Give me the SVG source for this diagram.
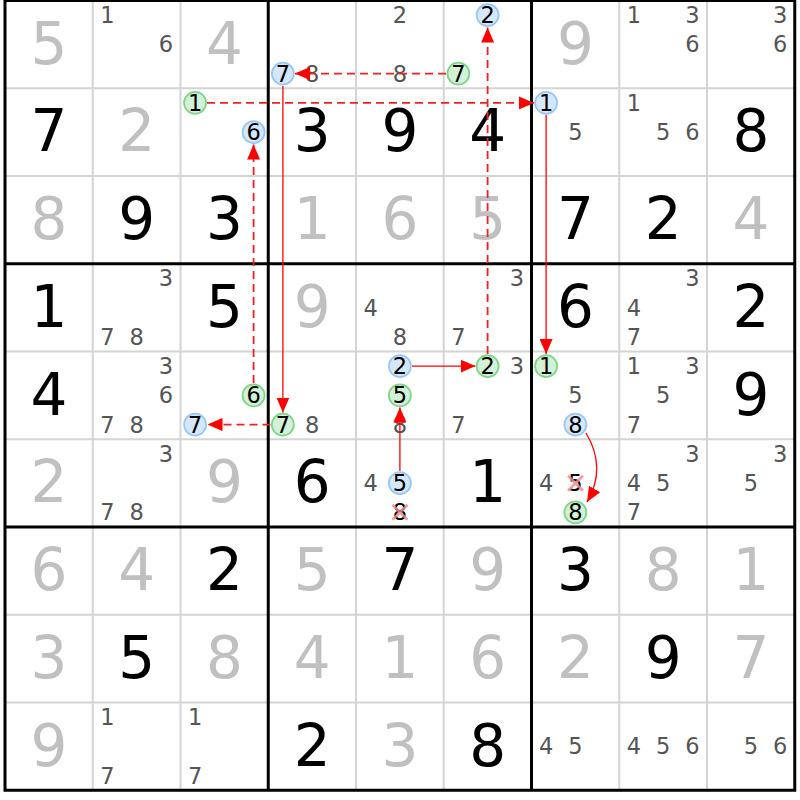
<svg xmlns="http://www.w3.org/2000/svg" width="800" height="800" viewBox="0 0 800 800">
<style>
text{font-family:"DejaVu Sans","Liberation Sans",sans-serif;text-anchor:middle}
.g{font-size:58px;fill:#000}
.s{font-size:58px;fill:#c0c0c0}
.c{font-size:22.5px;fill:#555}
.k{font-size:22.5px;fill:#000}
.thin{stroke:#d4d4d4;stroke-width:2}
.thick{stroke:#000;stroke-width:3}
.bl{fill:#d5e8fb;stroke:#99c7f4;stroke-width:1.8}
.gr{fill:#d3f1d6;stroke:#7dd68b;stroke-width:1.8}
.x{stroke:#f08a8a;stroke-width:2.5;opacity:0.85}
.sol{stroke:#f00;stroke-width:1.3;fill:none}
.dash{stroke:#f02020;stroke-width:1.8;fill:none;stroke-dasharray:8,5}
</style>
<defs>
<marker id="ah" markerUnits="userSpaceOnUse" markerWidth="16" markerHeight="13" refX="15" refY="6.5" orient="auto">
<path d="M0,0 L15,6.5 L0,13 Z" fill="#f00"/>
</marker>
</defs>
<rect width="800" height="800" fill="#fff"/>
<g id="grid">
<g class="thin">
<line x1="92.75" y1="0.5" x2="92.75" y2="790.25"/><line x1="180.5" y1="0.5" x2="180.5" y2="790.25"/>
<line x1="356" y1="0.5" x2="356" y2="790.25"/><line x1="443.75" y1="0.5" x2="443.75" y2="790.25"/>
<line x1="619.25" y1="0.5" x2="619.25" y2="790.25"/><line x1="707" y1="0.5" x2="707" y2="790.25"/>
<line x1="5" y1="88.25" x2="794.75" y2="88.25"/><line x1="5" y1="176" x2="794.75" y2="176"/>
<line x1="5" y1="351.5" x2="794.75" y2="351.5"/><line x1="5" y1="439.25" x2="794.75" y2="439.25"/>
<line x1="5" y1="614.75" x2="794.75" y2="614.75"/><line x1="5" y1="702.5" x2="794.75" y2="702.5"/>
</g>
<g class="thick">
<line x1="268.25" y1="0.5" x2="268.25" y2="790.25"/><line x1="531.5" y1="0.5" x2="531.5" y2="790.25"/>
<line x1="5" y1="263.75" x2="794.75" y2="263.75"/><line x1="5" y1="527" x2="794.75" y2="527"/>
<rect x="5" y="0.5" width="789.75" height="789.75" fill="none"/>
</g>
</g>
<!-- row 0 -->
<g id="r0c0" transform="translate(5,0.5)"><text class="s" x="43.9" y="63">5</text></g>
<g id="r0c1" transform="translate(92.75,0.5)"><text class="c" x="14.6" y="22.6">1</text><text class="c" x="73.1" y="51.9">6</text></g>
<g id="r0c2" transform="translate(180.5,0.5)"><text class="s" x="43.9" y="63">4</text></g>
<g id="r0c3" transform="translate(268.25,0.5)"><text class="c" x="43.9" y="81.1">8</text><circle class="bl" cx="14.6" cy="73.1" r="11"/><text class="k" x="14.6" y="81.1">7</text></g>
<g id="r0c4" transform="translate(356,0.5)"><text class="c" x="43.9" y="22.6">2</text><text class="c" x="43.9" y="81.1">8</text></g>
<g id="r0c5" transform="translate(443.75,0.5)"><circle class="bl" cx="43.9" cy="14.6" r="11"/><text class="k" x="43.9" y="22.6">2</text><circle class="gr" cx="14.6" cy="73.1" r="11"/><text class="k" x="14.6" y="81.1">7</text></g>
<g id="r0c6" transform="translate(531.5,0.5)"><text class="s" x="43.9" y="63">9</text></g>
<g id="r0c7" transform="translate(619.25,0.5)"><text class="c" x="14.6" y="22.6">1</text><text class="c" x="73.1" y="22.6">3</text><text class="c" x="73.1" y="51.9">6</text></g>
<g id="r0c8" transform="translate(707,0.5)"><text class="c" x="73.1" y="22.6">3</text><text class="c" x="73.1" y="51.9">6</text></g>
<!-- row 1 -->
<g id="r1c0" transform="translate(5,88.25)"><text class="g" x="43.9" y="63">7</text></g>
<g id="r1c1" transform="translate(92.75,88.25)"><text class="s" x="43.9" y="63">2</text></g>
<g id="r1c2" transform="translate(180.5,88.25)"><circle class="gr" cx="14.6" cy="14.6" r="11"/><text class="k" x="14.6" y="22.6">1</text><circle class="bl" cx="73.1" cy="43.9" r="11"/><text class="k" x="73.1" y="51.9">6</text></g>
<g id="r1c3" transform="translate(268.25,88.25)"><text class="g" x="43.9" y="63">3</text></g>
<g id="r1c4" transform="translate(356,88.25)"><text class="g" x="43.9" y="63">9</text></g>
<g id="r1c5" transform="translate(443.75,88.25)"><text class="g" x="43.9" y="63">4</text></g>
<g id="r1c6" transform="translate(531.5,88.25)"><circle class="bl" cx="14.6" cy="14.6" r="11"/><text class="k" x="14.6" y="22.6">1</text><text class="c" x="43.9" y="51.9">5</text></g>
<g id="r1c7" transform="translate(619.25,88.25)"><text class="c" x="14.6" y="22.6">1</text><text class="c" x="43.9" y="51.9">5</text><text class="c" x="73.1" y="51.9">6</text></g>
<g id="r1c8" transform="translate(707,88.25)"><text class="g" x="43.9" y="63">8</text></g>
<!-- row 2 -->
<g id="r2c0" transform="translate(5,176)"><text class="s" x="43.9" y="63">8</text></g>
<g id="r2c1" transform="translate(92.75,176)"><text class="g" x="43.9" y="63">9</text></g>
<g id="r2c2" transform="translate(180.5,176)"><text class="g" x="43.9" y="63">3</text></g>
<g id="r2c3" transform="translate(268.25,176)"><text class="s" x="43.9" y="63">1</text></g>
<g id="r2c4" transform="translate(356,176)"><text class="s" x="43.9" y="63">6</text></g>
<g id="r2c5" transform="translate(443.75,176)"><text class="s" x="43.9" y="63">5</text></g>
<g id="r2c6" transform="translate(531.5,176)"><text class="g" x="43.9" y="63">7</text></g>
<g id="r2c7" transform="translate(619.25,176)"><text class="g" x="43.9" y="63">2</text></g>
<g id="r2c8" transform="translate(707,176)"><text class="s" x="43.9" y="63">4</text></g>
<!-- row 3 -->
<g id="r3c0" transform="translate(5,263.75)"><text class="g" x="43.9" y="63">1</text></g>
<g id="r3c1" transform="translate(92.75,263.75)"><text class="c" x="73.1" y="22.6">3</text><text class="c" x="14.6" y="81.1">7</text><text class="c" x="43.9" y="81.1">8</text></g>
<g id="r3c2" transform="translate(180.5,263.75)"><text class="g" x="43.9" y="63">5</text></g>
<g id="r3c3" transform="translate(268.25,263.75)"><text class="s" x="43.9" y="63">9</text></g>
<g id="r3c4" transform="translate(356,263.75)"><text class="c" x="14.6" y="51.9">4</text><text class="c" x="43.9" y="81.1">8</text></g>
<g id="r3c5" transform="translate(443.75,263.75)"><text class="c" x="73.1" y="22.6">3</text><text class="c" x="14.6" y="81.1">7</text></g>
<g id="r3c6" transform="translate(531.5,263.75)"><text class="g" x="43.9" y="63">6</text></g>
<g id="r3c7" transform="translate(619.25,263.75)"><text class="c" x="73.1" y="22.6">3</text><text class="c" x="14.6" y="51.9">4</text><text class="c" x="14.6" y="81.1">7</text></g>
<g id="r3c8" transform="translate(707,263.75)"><text class="g" x="43.9" y="63">2</text></g>
<!-- row 4 -->
<g id="r4c0" transform="translate(5,351.5)"><text class="g" x="43.9" y="63">4</text></g>
<g id="r4c1" transform="translate(92.75,351.5)"><text class="c" x="73.1" y="22.6">3</text><text class="c" x="73.1" y="51.9">6</text><text class="c" x="14.6" y="81.1">7</text><text class="c" x="43.9" y="81.1">8</text></g>
<g id="r4c2" transform="translate(180.5,351.5)"><circle class="gr" cx="73.1" cy="43.9" r="11"/><text class="k" x="73.1" y="51.9">6</text><circle class="bl" cx="14.6" cy="73.1" r="11"/><text class="k" x="14.6" y="81.1">7</text></g>
<g id="r4c3" transform="translate(268.25,351.5)"><circle class="gr" cx="14.6" cy="73.1" r="11"/><text class="k" x="14.6" y="81.1">7</text><text class="c" x="43.9" y="81.1">8</text></g>
<g id="r4c4" transform="translate(356,351.5)"><text class="c" x="43.9" y="81.1">8</text><circle class="bl" cx="43.9" cy="14.6" r="11"/><text class="k" x="43.9" y="22.6">2</text><circle class="gr" cx="43.9" cy="43.9" r="11"/><text class="k" x="43.9" y="51.9">5</text></g>
<g id="r4c5" transform="translate(443.75,351.5)"><circle class="gr" cx="43.9" cy="14.6" r="11"/><text class="k" x="43.9" y="22.6">2</text><text class="c" x="73.1" y="22.6">3</text><text class="c" x="14.6" y="81.1">7</text></g>
<g id="r4c6" transform="translate(531.5,351.5)"><circle class="gr" cx="14.6" cy="14.6" r="11"/><text class="k" x="14.6" y="22.6">1</text><text class="c" x="43.9" y="51.9">5</text><circle class="bl" cx="43.9" cy="73.1" r="11"/><text class="k" x="43.9" y="81.1">8</text></g>
<g id="r4c7" transform="translate(619.25,351.5)"><text class="c" x="14.6" y="22.6">1</text><text class="c" x="73.1" y="22.6">3</text><text class="c" x="43.9" y="51.9">5</text><text class="c" x="14.6" y="81.1">7</text></g>
<g id="r4c8" transform="translate(707,351.5)"><text class="g" x="43.9" y="63">9</text></g>
<!-- row 5 -->
<g id="r5c0" transform="translate(5,439.25)"><text class="s" x="43.9" y="63">2</text></g>
<g id="r5c1" transform="translate(92.75,439.25)"><text class="c" x="73.1" y="22.6">3</text><text class="c" x="14.6" y="81.1">7</text><text class="c" x="43.9" y="81.1">8</text></g>
<g id="r5c2" transform="translate(180.5,439.25)"><text class="s" x="43.9" y="63">9</text></g>
<g id="r5c3" transform="translate(268.25,439.25)"><text class="g" x="43.9" y="63">6</text></g>
<g id="r5c4" transform="translate(356,439.25)"><text class="c" x="14.6" y="51.9">4</text><circle class="bl" cx="43.9" cy="43.9" r="11"/><text class="k" x="43.9" y="51.9">5</text><text class="k" x="43.9" y="81.1">8</text><path class="x" d="M36.5,65.5 L51.5,80.5 M51.5,65.5 L36.5,80.5"/></g>
<g id="r5c5" transform="translate(443.75,439.25)"><text class="g" x="43.9" y="63">1</text></g>
<g id="r5c6" transform="translate(531.5,439.25)"><text class="c" x="14.6" y="51.9">4</text><text class="k" x="43.9" y="51.9">5</text><path class="x" d="M36.5,36.5 L51.5,51.5 M51.5,36.5 L36.5,51.5"/><circle class="gr" cx="43.9" cy="73.1" r="11"/><text class="k" x="43.9" y="81.1">8</text></g>
<g id="r5c7" transform="translate(619.25,439.25)"><text class="c" x="73.1" y="22.6">3</text><text class="c" x="14.6" y="51.9">4</text><text class="c" x="43.9" y="51.9">5</text><text class="c" x="14.6" y="81.1">7</text></g>
<g id="r5c8" transform="translate(707,439.25)"><text class="c" x="73.1" y="22.6">3</text><text class="c" x="43.9" y="51.9">5</text></g>
<!-- row 6 -->
<g id="r6c0" transform="translate(5,527)"><text class="s" x="43.9" y="63">6</text></g>
<g id="r6c1" transform="translate(92.75,527)"><text class="s" x="43.9" y="63">4</text></g>
<g id="r6c2" transform="translate(180.5,527)"><text class="g" x="43.9" y="63">2</text></g>
<g id="r6c3" transform="translate(268.25,527)"><text class="s" x="43.9" y="63">5</text></g>
<g id="r6c4" transform="translate(356,527)"><text class="g" x="43.9" y="63">7</text></g>
<g id="r6c5" transform="translate(443.75,527)"><text class="s" x="43.9" y="63">9</text></g>
<g id="r6c6" transform="translate(531.5,527)"><text class="g" x="43.9" y="63">3</text></g>
<g id="r6c7" transform="translate(619.25,527)"><text class="s" x="43.9" y="63">8</text></g>
<g id="r6c8" transform="translate(707,527)"><text class="s" x="43.9" y="63">1</text></g>
<!-- row 7 -->
<g id="r7c0" transform="translate(5,614.75)"><text class="s" x="43.9" y="63">3</text></g>
<g id="r7c1" transform="translate(92.75,614.75)"><text class="g" x="43.9" y="63">5</text></g>
<g id="r7c2" transform="translate(180.5,614.75)"><text class="s" x="43.9" y="63">8</text></g>
<g id="r7c3" transform="translate(268.25,614.75)"><text class="s" x="43.9" y="63">4</text></g>
<g id="r7c4" transform="translate(356,614.75)"><text class="s" x="43.9" y="63">1</text></g>
<g id="r7c5" transform="translate(443.75,614.75)"><text class="s" x="43.9" y="63">6</text></g>
<g id="r7c6" transform="translate(531.5,614.75)"><text class="s" x="43.9" y="63">2</text></g>
<g id="r7c7" transform="translate(619.25,614.75)"><text class="g" x="43.9" y="63">9</text></g>
<g id="r7c8" transform="translate(707,614.75)"><text class="s" x="43.9" y="63">7</text></g>
<!-- row 8 -->
<g id="r8c0" transform="translate(5,702.5)"><text class="s" x="43.9" y="63">9</text></g>
<g id="r8c1" transform="translate(92.75,702.5)"><text class="c" x="14.6" y="22.6">1</text><text class="c" x="14.6" y="81.1">7</text></g>
<g id="r8c2" transform="translate(180.5,702.5)"><text class="c" x="14.6" y="22.6">1</text><text class="c" x="14.6" y="81.1">7</text></g>
<g id="r8c3" transform="translate(268.25,702.5)"><text class="g" x="43.9" y="63">2</text></g>
<g id="r8c4" transform="translate(356,702.5)"><text class="s" x="43.9" y="63">3</text></g>
<g id="r8c5" transform="translate(443.75,702.5)"><text class="g" x="43.9" y="63">8</text></g>
<g id="r8c6" transform="translate(531.5,702.5)"><text class="c" x="14.6" y="51.9">4</text><text class="c" x="43.9" y="51.9">5</text></g>
<g id="r8c7" transform="translate(619.25,702.5)"><text class="c" x="14.6" y="51.9">4</text><text class="c" x="43.9" y="51.9">5</text><text class="c" x="73.1" y="51.9">6</text></g>
<g id="r8c8" transform="translate(707,702.5)"><text class="c" x="43.9" y="51.9">5</text><text class="c" x="73.1" y="51.9">6</text></g>
<g id="connectors">
<line class="dash" x1="207" y1="102.9" x2="534" y2="102.9" marker-end="url(#ah)"/>
<line class="sol" x1="546.1" y1="115" x2="546.1" y2="354" marker-end="url(#ah)"/>
<line class="dash" x1="446" y1="73.6" x2="295" y2="73.6" marker-end="url(#ah)"/>
<line class="sol" x1="282.9" y1="86" x2="282.9" y2="412.5" marker-end="url(#ah)"/>
<line class="dash" x1="270.5" y1="424.6" x2="207.5" y2="424.6" marker-end="url(#ah)"/>
<line class="dash" x1="253.6" y1="383" x2="253.6" y2="144.5" marker-end="url(#ah)"/>
<line class="dash" x1="487.6" y1="354" x2="487.6" y2="27.5" marker-end="url(#ah)"/>
<line class="sol" x1="412" y1="366.1" x2="475.5" y2="366.1" marker-end="url(#ah)"/>
<line class="sol" x1="399.9" y1="471" x2="399.9" y2="407.5" marker-end="url(#ah)"/>
<path class="sol" d="M586,433 Q607,468 587,502" marker-end="url(#ah)"/>
</g>
</svg>
